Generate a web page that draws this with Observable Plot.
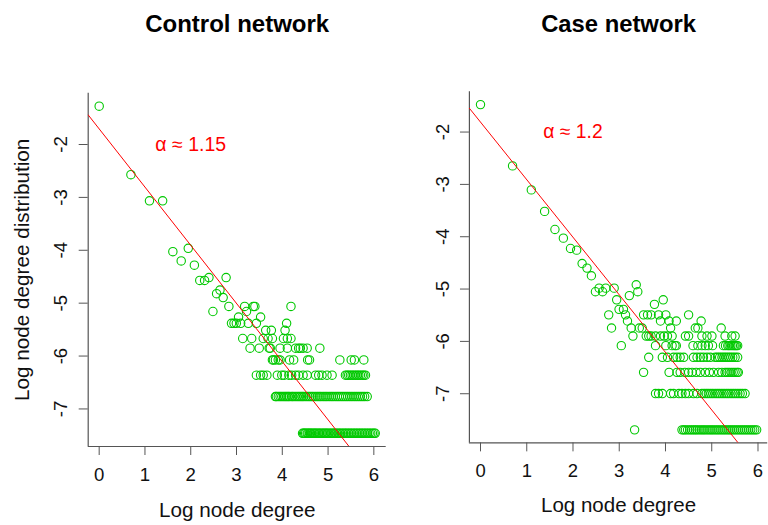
<!DOCTYPE html>
<html>
<head>
<meta charset="utf-8">
<script src="https://cdn.jsdelivr.net/npm/d3@7"></script>
<script src="https://cdn.jsdelivr.net/npm/@observablehq/plot@0.6"></script>
<style>
  html, body { margin: 0; padding: 0; background: #fff; overflow: hidden; }
  #wrap { position: relative; width: 768px; height: 525px; overflow: hidden; }
  #left, #right { position: absolute; top: 0; }
  #left { left: 0; }
  #right { left: 395px; }
</style>
</head>
<body>
<div id="wrap"><div id="left"></div><div id="right"></div></div>
<script>
// ---------- data ----------
const panelTitles = ["Control network", "Case network"];
const alphaLabels = ["α ≈ 1.15", "α ≈ 1.2"];
const xLabel = "Log node degree";
const yLabel = "Log node degree distribution";
const xTicks = [0, 1, 2, 3, 4, 5, 6];
const yTicks = [-7, -6, -5, -4, -3, -2];

// fitted power-law lines (log-log): intercept and slope
const fitIntercept = [-1.705, -1.81];
const fitSlope = [-1.10, -1.10];

// number of nodes in each network
const controlTotal = 1737;
const caseTotal = 2187;

// control network: [degree, number of nodes with that degree]
const controlPairs = [
  [1,485],[2,133],[3,81],[4,81],[5,31],[6,26],[7,33],[8,24],[9,18],[10,18],
  [11,19],[12,10],[13,14],[14,15],[15,13],[16,19],[17,11],[18,8],[19,8],[20,8],
  [21,9],[22,8],[23,6],[24,11],[25,10],[26,8],[27,5],[28,6],[29,11],[30,11],
  [31,8],[33,5],[34,9],[36,6],[38,7],[40,6],[41,5],[42,5],[43,7],[44,6],
  [44,4],[45,4],[47,4],[50,4],[52,5],[52,4],[56,6],[58,7],[60,8],[61,6],
  [61,5],[64,4],[66,11],[66,6],[70,4],[73,5],[78,5],[81,5],[86,5],[94,5],
  [95,4],[99,4],[124,5],[192,4],[246,4],[264,4],[324,4]
];
const controlDeg3 = [31,34,36,39,49,54,57,63,67,73,78,86,94,113,121,130,145,162,
  217,225,233,242,251,260,270,280,290,301,313,324,336];
const controlDeg2 = [47,48,50,52,54,56,58,60,62,64,67,69,72,75,78,81,84,87,91,95,
  99,103,107,112,117,122,127,133,139,145,152,159,166,174,182,190,199,208,218,228,
  239,250,262,274,287,301,315,330,349];
const controlDeg1 = [85,87,89,91,94,96,99,101,104,107,110,113,116,120,123,127,131,
  135,139,143,147,152,157,162,167,172,178,184,190,196,203,210,217,224,232,240,248,
  257,266,275,285,295,305,316,327,339,351,364,377,391,405,416];

// case network: [degree, number of nodes with that degree]
const casePairs = [
  [1,500],[2,155],[3,98],[4,65],[5,46],[6,39],[7,32],[8,31],[9,24],[10,22],
  [11,19],[12,14],[13,15],[14,14],[15,15],[16,9],[17,7],[18,15],[19,12],[20,10],
  [21,5],[22,10],[23,9],[24,8],[25,13],[26,7],[27,6],[29,16],[30,14],[31,7],
  [33,7],[34,9],[36,6],[37,9],[38,6],[38,4],[40,9],[40,6],[43,11],[44,6],
  [44,5],[47,9],[49,8],[49,6],[51,4],[52,12],[53,6],[55,9],[55,5],[57,6],
  [57,4],[59,8],[61,7],[63,6],[63,5],[65,4],[67,5],[69,8],[69,5],[70,4],
  [75,4],[81,4],[84,6],[90,9],[90,6],[99,5],[100,4],[104,7],[108,4],[110,7],
  [110,5],[116,4],[118,8],[120,6],[120,5],[124,4],[129,5],[134,6],[134,4],[138,5],
  [144,4],[149,6],[151,5],[160,4],[168,4],[176,4],[182,7],[185,4],[191,5],[194,4],
  [198,6],[200,5],[203,4],[210,5],[213,4],[216,5],[223,4],[224,5],[229,6],[232,5],
  [234,4],[240,5],[246,6],[246,5],[246,4],[253,5],[260,5],[260,4]
];
const caseDeg3 = [34,59,70,75,83,90,97,106,116,129,141,154,172,185,198,207,216,226,
  236,246,257,264];
const caseDeg2 = [44,47,51,61,65,73,78,84,90,100,108,120,126,132,138,145,152,160,
  168,176,185,194,204,214,225,236,248,261,274,288,305];
const caseDeg1 = [28,78,81,84,88,92,96,100,104,108,113,118,123,128,134,140,146,152,
  159,166,173,181,189,197,206,215,224,234,244,255,266,278,290,303,316,330,345,360,
  376,392];

// ---------- drawing ----------
const FONT = "'Liberation Sans', Arial, Helvetica, sans-serif";
const AXIS = "#555";
const GREEN = "#00C800";

function buildPoints(pairs, d3s, d2s, d1s, total) {
  const all = pairs
    .concat(d3s.map(k => [k, 3]))
    .concat(d2s.map(k => [k, 2]))
    .concat(d1s.map(k => [k, 1]));
  return all.map(([k, c]) => ({x: Math.log(k), y: Math.log(c / total)}));
}

function panel(o) {
  const fit = o.xDomain.map(x => ({x, y: o.intercept + o.slope * x}));
  const marks = [
    Plot.ruleX([o.xDomain[0]], {stroke: AXIS, strokeWidth: 1.2}),
    Plot.ruleY([o.yDomain[0]], {stroke: AXIS, strokeWidth: 1.2}),
    Plot.axisX({ticks: xTicks, tickSize: 9, tickFormat: () => "", stroke: AXIS, label: null}),
    Plot.axisY({ticks: yTicks, tickSize: 9, tickFormat: () => "", stroke: AXIS, label: null}),
    Plot.text(xTicks, {x: d => d, frameAnchor: "bottom", dy: 34, lineAnchor: "bottom",
      text: d => String(d), fontSize: 18.6, fill: "#111"}),
    Plot.text(yTicks, {y: d => d, frameAnchor: "left", dx: -21, lineAnchor: "bottom",
      rotate: -90, textAnchor: "middle", text: d => String(d), fontSize: 18.6, fill: "#111"}),
    Plot.text([xLabel], {frameAnchor: "bottom", dy: 70, lineAnchor: "bottom",
      text: d => d, fontSize: 20.7, fill: "#111"}),
    Plot.text([o.title], {frameAnchor: "top", dy: 32 - o.marginTop, lineAnchor: "bottom",
      text: d => d, fontSize: 24, fontWeight: "bold", fill: "#000"}),
    Plot.dot(o.points, {x: "x", y: "y", r: 4.2, stroke: GREEN, strokeWidth: 1.1, fill: "none"}),
    Plot.line(fit, {x: "x", y: "y", stroke: "#ff0000", strokeWidth: 1, clip: true}),
    Plot.text([o.alpha], {x: 2, y: -2, text: d => d, fill: "#ff0000", fontSize: 19.5,
      lineAnchor: "middle"})
  ];
  if (o.yLabel) {
    marks.push(Plot.text([o.yLabel], {frameAnchor: "left", dx: -59, rotate: -90,
      textAnchor: "middle", lineAnchor: "bottom", text: d => d, fontSize: 20.7, fill: "#111"}));
  }
  return Plot.plot({
    width: o.width, height: 525,
    marginLeft: o.marginLeft, marginRight: o.marginRight,
    marginTop: o.marginTop, marginBottom: o.marginBottom,
    x: {domain: o.xDomain},
    y: {domain: o.yDomain},
    style: {fontFamily: FONT, background: "transparent", overflow: "visible"},
    marks
  });
}

document.getElementById("left").appendChild(panel({
  width: 395, marginLeft: 87.7, marginRight: 9.3, marginTop: 92.7, marginBottom: 79,
  xDomain: [-0.24, 6.27], yDomain: [-7.71, -1.03],
  points: buildPoints(controlPairs, controlDeg3, controlDeg2, controlDeg1, controlTotal),
  intercept: fitIntercept[0], slope: fitSlope[0],
  title: panelTitles[0], alpha: alphaLabels[0], yLabel: yLabel
}));

document.getElementById("right").appendChild(panel({
  width: 376, marginLeft: 74.5, marginRight: 0.8, marginTop: 92, marginBottom: 79,
  xDomain: [-0.24, 6.21], yDomain: [-7.94, -1.23],
  points: buildPoints(casePairs, caseDeg3, caseDeg2, caseDeg1, caseTotal),
  intercept: fitIntercept[1], slope: fitSlope[1],
  title: panelTitles[1], alpha: alphaLabels[1], yLabel: null
}));
</script>
</body>
</html>
